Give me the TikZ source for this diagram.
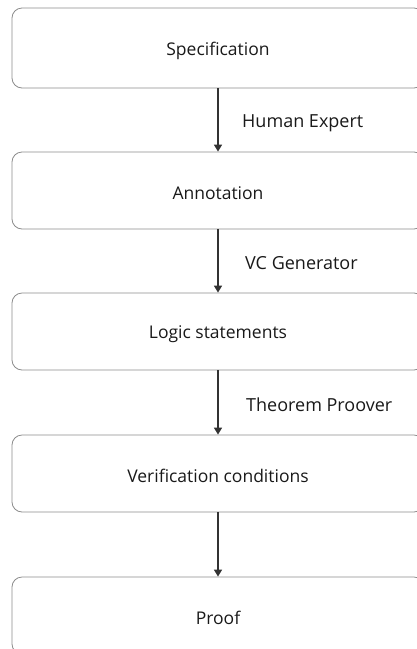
\documentclass[tikz,border=0pt]{standalone}
\usepackage{fontspec}
\setmainfont{Open Sans}
\usetikzlibrary{arrows.meta}
\newcommand{\lowtxt}[1]{\raisebox{-2.5pt}[\height][\depth]{#1}}
\begin{document}
\begin{tikzpicture}[x=1pt,y=-1pt,
  box/.style={draw=black!45,line width=0.8pt,rounded corners=10pt,minimum width=412pt,inner sep=0pt,font=\fontsize{17.5}{20}\selectfont,text=black!90},
  flow/.style={draw=black!80,line width=1.5pt,-{Triangle[length=7pt,width=8pt]}},
  lbl/.style={anchor=west,inner sep=0pt,font=\fontsize{18}{21}\selectfont,text=black!90}]
\useasboundingbox (0,0) rectangle (417,649);
\clip (0,0) rectangle (417,649);
\node[box,minimum height=80pt] (spec) at (218,48) {\lowtxt{Specification}};
\node[box,minimum height=77pt] (ann) at (218,190.5) {\lowtxt{Annotation}};
\node[box,minimum height=77pt] (logic) at (218,331.5) {\lowtxt{Logic statements}};
\node[box,minimum height=77pt] (vc) at (218,473.5) {\lowtxt{Verification conditions}};
\node[box,minimum height=77pt] (proof) at (218,615.5) {\lowtxt{Proof}};
\draw[flow] (spec) -- (ann);
\draw[flow] (ann) -- (logic);
\draw[flow] (logic) -- (vc);
\draw[flow] (vc) -- (proof);
\node[lbl] (l1) at (242,123.5) {Human Expert};
\node[lbl] (l2) at (245,263.5) {VC Generator};
\node[lbl] (l3) at (246,404.5) {Theorem Proover};
\end{tikzpicture}
\end{document}
